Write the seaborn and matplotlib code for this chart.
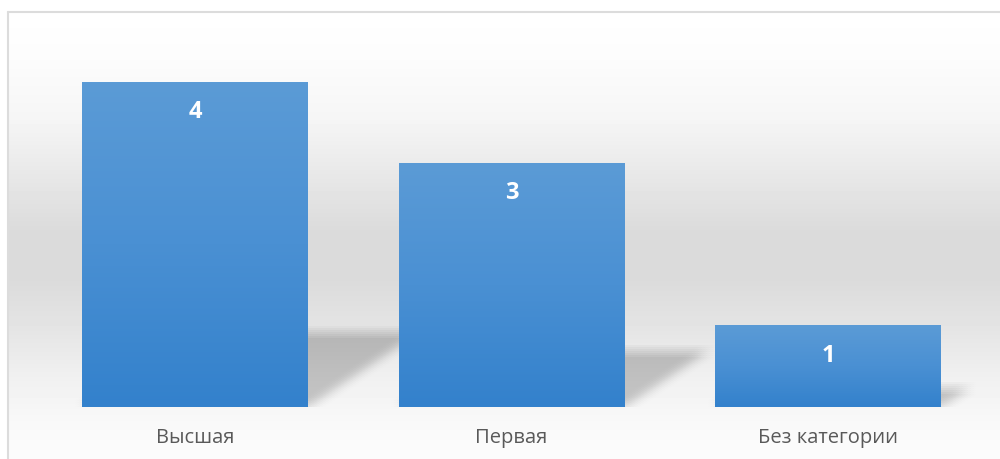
import numpy as np
import pandas as pd
import seaborn as sns
import matplotlib.pyplot as plt
import matplotlib.transforms as mtransforms
from matplotlib.patches import Polygon
from matplotlib.colors import LinearSegmentedColormap
from matplotlib.lines import Line2D

# data
categories = ["Высшая", "Первая", "Без категории"]
values = [4, 3, 1]

sns.set_theme(style="white")
plt.rcParams['font.family'] = ['Open Sans', 'DejaVu Sans']

W, H, DPI = 1000, 459, 100
fig = plt.figure(figsize=(W / DPI, H / DPI), dpi=DPI)

# background gradient (light at top, grey in the middle, light at the bottom)
bg = fig.add_axes([0, 0, 1, 1], zorder=0)
rows = np.arange(H)
stops_y = [12, 60, 120, 170, 230, 280, 330, 380, 420, 459]
stops_v = [255, 252, 245, 233, 219, 219, 229, 241, 248, 252]
col = np.interp(rows, stops_y, stops_v) / 255.0
img = np.repeat(col[:, None], W, axis=1)
img[:12, :] = 1.0
img[:, :7] = 1.0
bg.imshow(img, cmap="gray", vmin=0, vmax=1, aspect="auto", extent=[0, W, H, 0], interpolation="bilinear")
bg.set_xlim(0, W)
bg.set_ylim(H, 0)
bg.axis("off")

# chart border (only left and top edges are visible in the crop)
fig.add_artist(Line2D([7.5 / W, 7.5 / W], [0, (H - 12) / H], color="#dcdcdc", lw=1.5))
fig.add_artist(Line2D([7.5 / W, 1], [(H - 12) / H, (H - 12) / H], color="#dcdcdc", lw=1.5))

ax = fig.add_axes([36.75 / W, 52 / H, 949.5 / W, 365.6 / H], zorder=1)
ax.patch.set_alpha(0)

df = pd.DataFrame({"category": categories, "count": values})
sns.barplot(data=df, x="category", y="count", color="#4a8fd2", width=0.714,
            saturation=1, linewidth=0, ax=ax, zorder=3)
ax.set_xlim(-0.5, 2.5)
ax.set_ylim(0, 4.5)

# soft floor shadows cast back and to the right
shadow_depth = 0.23
offsets = [(dx, dy) for dx in np.linspace(-8, 8, 7) for dy in np.linspace(-6, 6, 7)]
a = 1 - (1 - 0.16) ** (1 / len(offsets))
px_per_x = 949.5 / 3
px_per_y = 365.6 / 4.5
for patch, v in zip(ax.patches, values):
    x0 = patch.get_x()
    x1 = x0 + patch.get_width()
    d = shadow_depth * v
    s = 1.5 * d * px_per_y / px_per_x
    pts = [(x0, 0), (x1, 0), (x1 + s, d), (x0 + s, d)]
    for dx, dy in offsets:
        tr = mtransforms.offset_copy(ax.transData, fig=fig, x=dx, y=dy, units="dots")
        ax.add_patch(Polygon(pts, closed=True, facecolor="black", edgecolor="none",
                             alpha=a, transform=tr, zorder=2))

# vertical gradient on each bar
bar_cmap = LinearSegmentedColormap.from_list("bar", ["#3381cc", "#4a90d3", "#5b9bd6"])
grad = np.linspace(0, 1, 256)[:, None]
for patch in ax.patches[:len(values)]:
    x0 = patch.get_x()
    x1 = x0 + patch.get_width()
    h = patch.get_height()
    ax.imshow(grad, cmap=bar_cmap, aspect="auto", origin="lower",
              extent=[x0, x1, 0, h], zorder=4)
ax.set_xlim(-0.5, 2.5)
ax.set_ylim(0, 4.5)

# value labels inside the bars
for i, v in enumerate(values):
    ax.annotate(str(v), xy=(i, v), xytext=(0, -30 * 72 / DPI), textcoords="offset points",
                ha="center", va="center", color="white", fontsize=17,
                fontweight="bold", zorder=6)

ax.set_xlabel("")
ax.set_ylabel("")
ax.set_yticks([])
ax.tick_params(axis="x", length=0, pad=15, labelsize=14.5, labelcolor="#595959")
sns.despine(ax=ax, left=True, bottom=True)

fig.savefig("out.png", dpi=DPI)
